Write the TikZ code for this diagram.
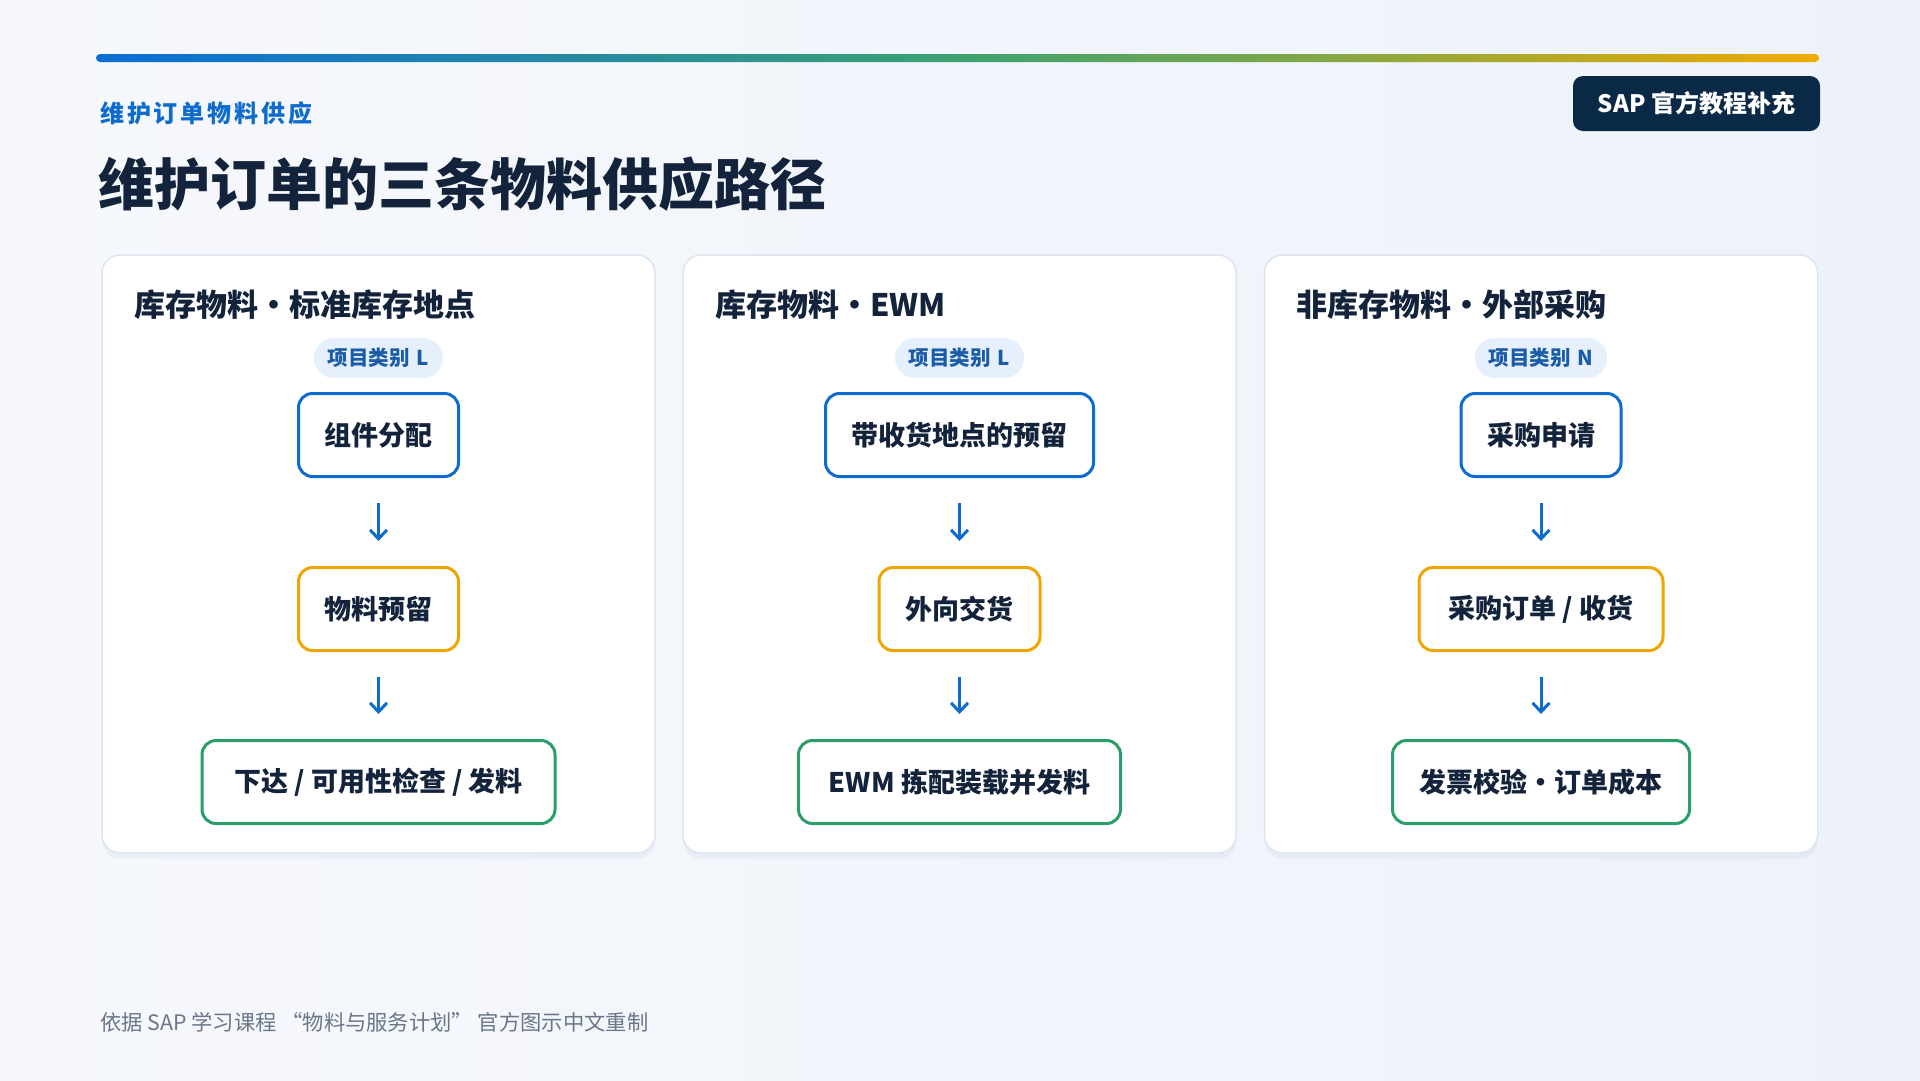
\documentclass[tikz,border=0pt]{standalone}
\usepackage{fontspec}
\setmainfont{Noto Sans CJK SC}
\newfontfamily\kickerfont{Noto Sans CJK SC}[LetterSpace=12]
\usepackage{xcolor}
\usetikzlibrary{arrows.meta,positioning,shadows}

\definecolor{ink}{HTML}{13233B}
\definecolor{flowblue}{HTML}{0F6CCF}
\definecolor{flowgold}{HTML}{F0A500}
\definecolor{flowgreen}{HTML}{2A9D68}
\definecolor{tagfill}{HTML}{E6F0FC}
\definecolor{tagtext}{HTML}{1A5CA8}
\definecolor{cardline}{HTML}{DCE5F0}
\definecolor{badgebg}{HTML}{0A2947}
\definecolor{foottext}{HTML}{6A7689}
\definecolor{bgleft}{HTML}{F6F8FC}
\definecolor{bgright}{HTML}{EDF2FA}
\definecolor{barleft}{HTML}{0A6ED8}
\definecolor{barteal}{HTML}{2A8F98}
\definecolor{barmid}{HTML}{3CA270}
\definecolor{barolive}{HTML}{7EA748}
\definecolor{barright}{HTML}{F2AA00}
\definecolor{shadowc}{HTML}{3A5F9A}
% the path is fitted to the middle 25bp--75bp of the shading
\pgfdeclarehorizontalshading{topbar}{100bp}{color(0bp)=(barleft); color(25bp)=(barleft);
  color(41.5bp)=(barteal); color(50bp)=(barmid); color(60bp)=(barolive);
  color(75bp)=(barright); color(100bp)=(barright)}

\begin{document}
\begin{tikzpicture}[x=1pt, y=-1pt,
  card/.style={draw=cardline, line width=1.5pt, fill=white, rounded corners=18pt,
               minimum width=553pt, minimum height=598pt,
               drop shadow={shadow xshift=0pt, shadow yshift=-6pt, opacity=0.05, fill=shadowc}},
  head/.style={anchor=west, inner sep=0pt, text=ink,
               font=\fontsize{31pt}{36pt}\selectfont\bfseries},
  tag/.style={fill=tagfill, rounded corners=20pt, minimum height=40pt, inner xsep=14pt,
              text=tagtext, font=\fontsize{20.5pt}{24pt}\selectfont\bfseries},
  stepbox/.style={draw, line width=3pt, fill=white, rounded corners=14pt,
                  minimum height=83pt, inner xsep=0pt, text=ink,
                  font=\fontsize{27pt}{31pt}\selectfont\bfseries},
  arr/.style={-{Straight Barb[length=9pt, width=17pt]}, line width=3pt, draw=flowblue,
              shorten <=25pt, shorten >=25pt}
]
\useasboundingbox (0,0) rectangle (1920,1080);
\shade[left color=bgleft, right color=bgright] (0,0) rectangle (1920,1080);

% top rule and headings
\shade[shading=topbar, rounded corners=4pt] (96,54) rectangle (1819,62);
\node[anchor=west, inner sep=0pt, text=flowblue,
      font=\kickerfont\fontsize{24pt}{28pt}\selectfont\bfseries] (kicker) at (100,113) {维护订单物料供应};
\node[anchor=west, inner sep=0pt, text=ink,
      font=\fontsize{56pt}{64pt}\selectfont\bfseries] (title) at (98,184) {维护订单的三条物料供应路径};
\node[fill=badgebg, rounded corners=10pt, minimum width=247pt, minimum height=55pt, text=white,
      font=\fontsize{24pt}{28pt}\selectfont\bfseries] (sap) at (1696.5,103.5) {SAP 官方教程补充};

% cards
\node[card] (c1) at (378.5,554) {};
\node[card] (c2) at (959.5,554) {};
\node[card] (c3) at (1541,554) {};

% path 1
\node[head] (h1) at (134,305) {库存物料·标准库存地点};
\node[tag] (t1) at (378.5,358) {项目类别\,\,L};
\node[stepbox, draw=flowblue, minimum width=160pt] (a1) at (378.5,435) {组件分配};
\node[stepbox, draw=flowgold, minimum width=160pt] (b1) at (378.5,609) {物料预留};
\node[stepbox, draw=flowgreen, minimum width=353pt] (d1) at (378.5,782) {下达 / 可用性检查 / 发料};
\draw[arr] (a1) -- (b1);
\draw[arr] (b1) -- (d1);

% path 2
\node[head] (h2) at (715,305) {库存物料·EWM};
\node[tag] (t2) at (959.5,358) {项目类别\,\,L};
\node[stepbox, draw=flowblue, minimum width=268pt] (a2) at (959.5,435) {带收货地点的预留};
\node[stepbox, draw=flowgold, minimum width=161pt] (b2) at (959.5,609) {外向交货};
\node[stepbox, draw=flowgreen, minimum width=322pt] (d2) at (959.5,782) {EWM 拣配装载并发料};
\draw[arr] (a2) -- (b2);
\draw[arr] (b2) -- (d2);

% path 3
\node[head] (h3) at (1296,305) {非库存物料·外部采购};
\node[tag] (t3) at (1541,358) {项目类别\,\,N};
\node[stepbox, draw=flowblue, minimum width=160pt] (a3) at (1541,435) {采购申请};
\node[stepbox, draw=flowgold, minimum width=244pt] (b3) at (1541,609) {采购订单 / 收货};
\node[stepbox, draw=flowgreen, minimum width=297pt] (d3) at (1541,782) {发票校验·订单成本};
\draw[arr] (a3) -- (b3);
\draw[arr] (b3) -- (d3);

% source line
\node[anchor=west, inner sep=0pt, text=foottext,
      font=\fontsize{21.3pt}{25pt}\selectfont] (src) at (100,1022) {依据 SAP 学习课程 “物料与服务计划” 官方图示中文重制};
\end{tikzpicture}
\end{document}
